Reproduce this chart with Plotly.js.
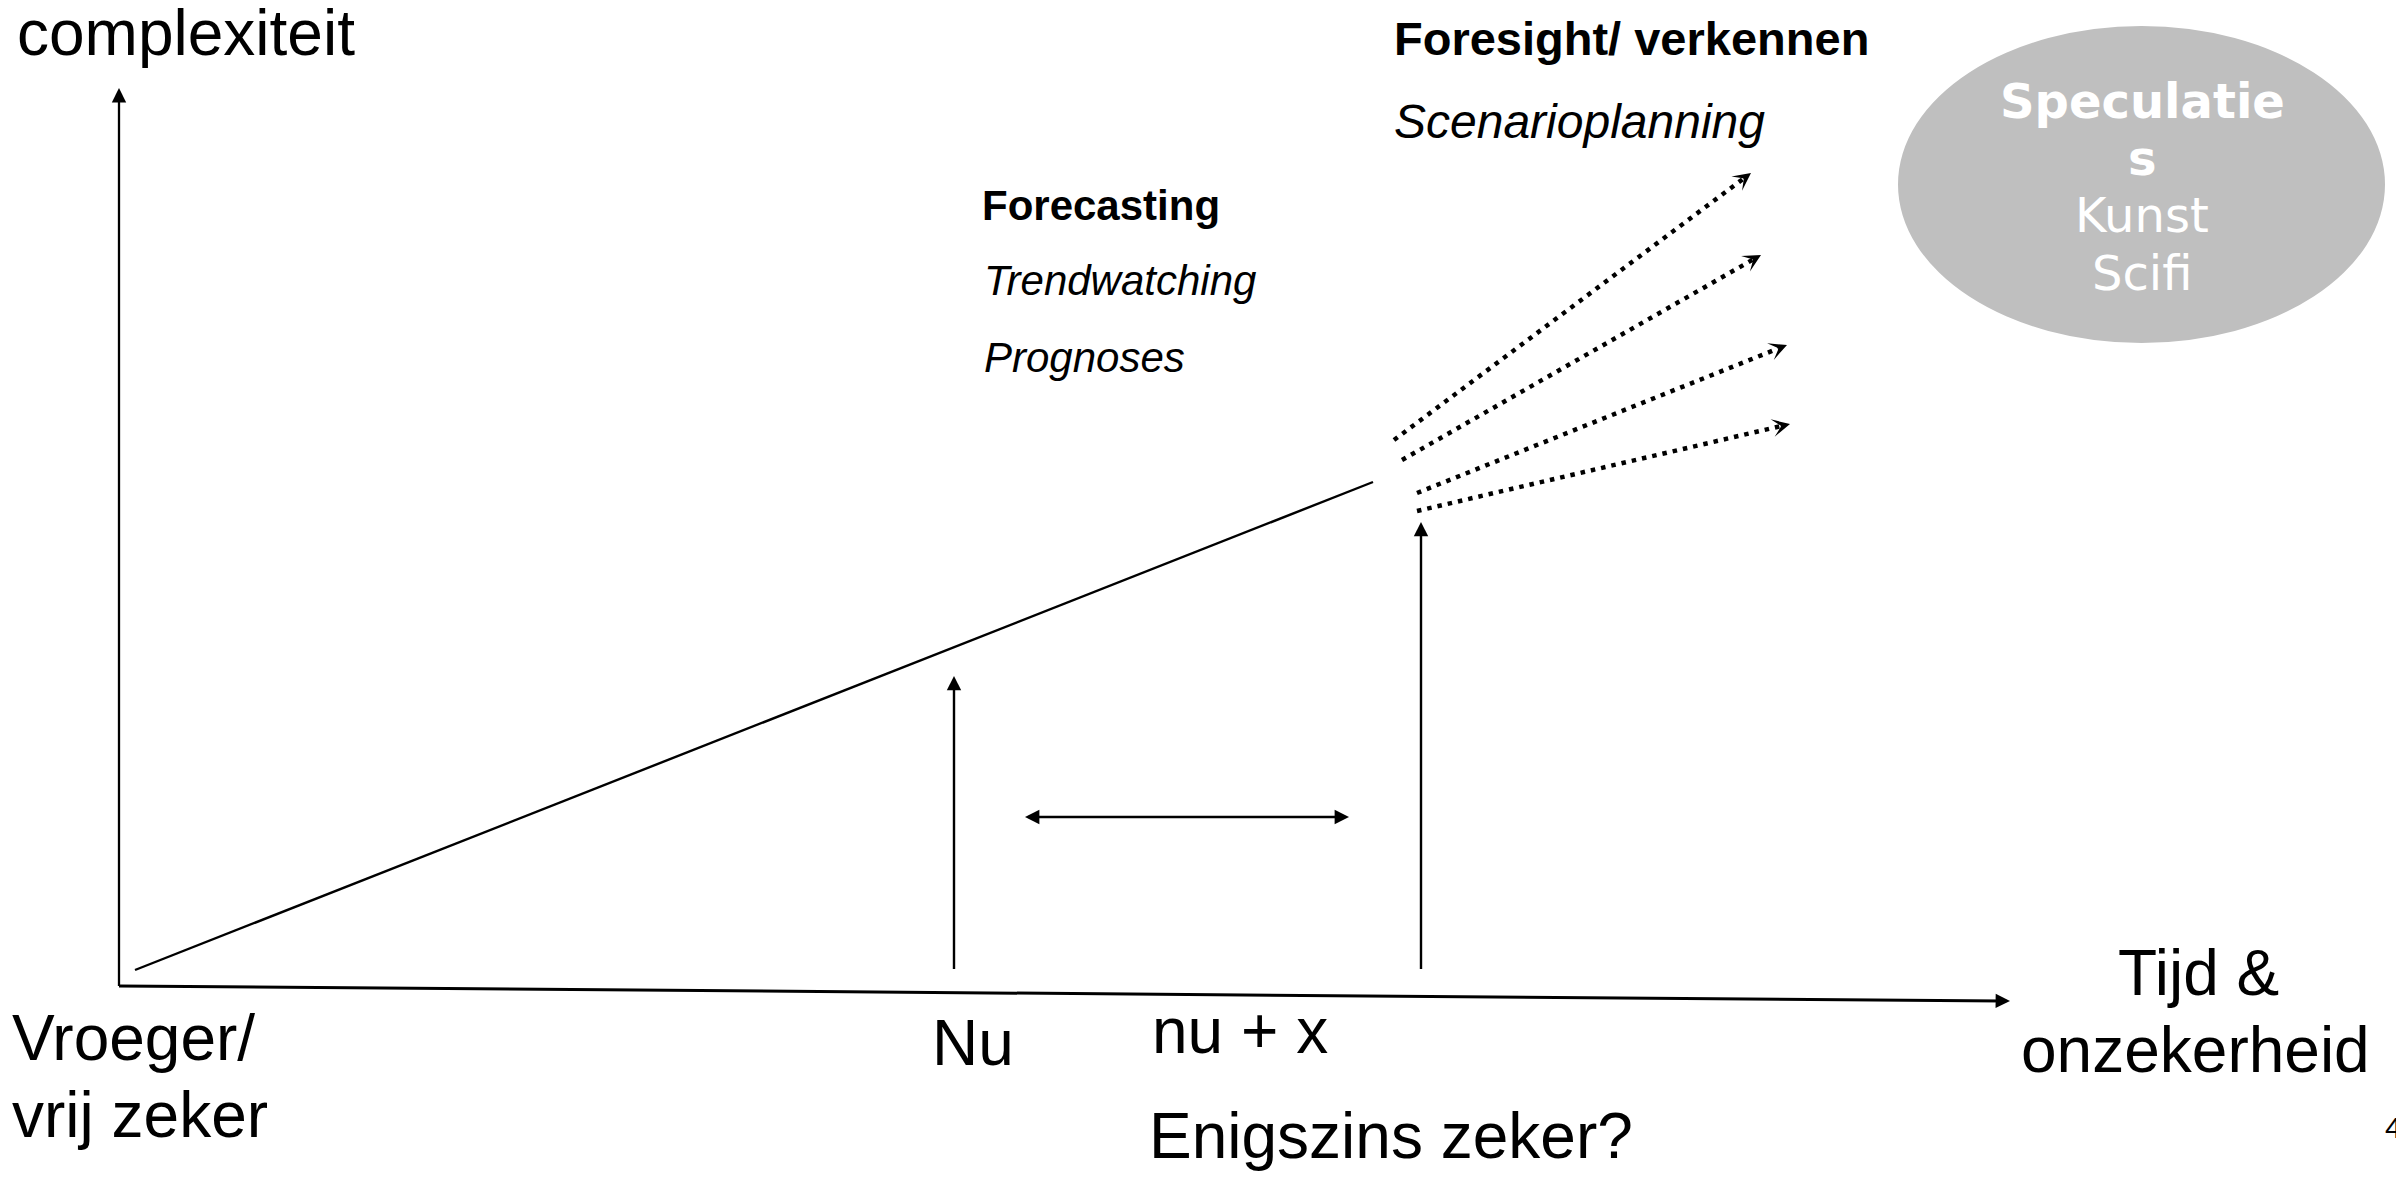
<!DOCTYPE html>
<html><head><meta charset="utf-8">
<script src="https://cdn.plot.ly/plotly-3.0.1.min.js"></script>
<style>html,body{margin:0;padding:0;background:#fff;overflow:hidden}#chart{width:2396px;height:1177px}</style>
</head><body><div id="chart"></div>
<script>
// ---- Diagram geometry (canvas units, 2396 x 1177, y downwards) ----
const yAxisX = [119, 119];      const yAxisY = [986, 88];
const xAxisX = [119, 2010];     const xAxisY = [986, 1001];
const trendX = [135, 1373];     const trendY = [970, 482];
const nuArrowX = [954, 954];    const nuArrowY = [969, 676];
const nuxArrowX = [1421, 1421]; const nuxArrowY = [969, 522];
const spanX = [1025, 1349];     const spanY = [817, 817];
// four dotted scenario arrows
const scenStartX = [1394, 1402, 1417, 1417];
const scenStartY = [440, 460, 493, 511];
const scenEndX   = [1751, 1761, 1787, 1790];
const scenEndY   = [173, 255, 345, 424];
// ellipse "Speculaties"
const ellipseX = [1898, 2385];
const ellipseY = [26, 343];

// ---- Text labels ----
const labelText = ['complexiteit', 'Foresight/ verkennen', 'Scenarioplanning', 'Forecasting', 'Trendwatching', 'Prognoses',
  'Vroeger/', 'vrij zeker', 'Nu', 'nu + x', 'Enigszins zeker?', 'Tijd &', 'onzekerheid', '4'];
const labelX = [16, 1393, 1393, 981, 983, 983, 11, 11, 931, 1151, 1148, 2198, 2195, 2384];
const labelY = [55, 55, 138, 220, 295, 372, 1060, 1137, 1065, 1053, 1158, 995, 1072, 1138];
const ellipseText = ['Speculatie', 's', 'Kunst', 'Scifi'];
const ellipseTextY = [118, 175, 232, 290];
const ellipseTextX = 2142;

// styles (not data)
const ARIAL = 'Liberation Sans, Arial, sans-serif';
const labelStyle = [
  {s:64}, {s:47,b:1}, {s:48,i:1}, {s:42,b:1}, {s:42,i:1}, {s:42,i:1},
  {s:64}, {s:64}, {s:64}, {s:64}, {s:64}, {s:64,c:1}, {s:64,c:1}, {s:30}
];
const ellipseStyle = [{b:1}, {b:1}, {}, {}];

function shorten(x0, y0, x1, y1, d) {
  const L = Math.hypot(x1 - x0, y1 - y0);
  return [x1 - (x1 - x0) / L * d, y1 - (y1 - y0) / L * d];
}
function head(x0, y0, x1, y1, opts) {
  const t = shorten(x0, y0, x1, y1, opts.back);
  return Object.assign({
    x: x1, y: y1, ax: t[0], ay: t[1], xref: 'x', yref: 'y', axref: 'x', ayref: 'y',
    text: '', showarrow: true, arrowcolor: '#000', standoff: 0
  }, opts.style);
}

const traces = [];
const annotations = [];
const solidHead = {arrowhead: 2, arrowwidth: 2.5, arrowsize: 1.15};
const dotHead = {arrowhead: 3, arrowwidth: 2.2, arrowsize: 1.35};

function solidLine(xs, ys, w, endHead, startHead) {
  let x0 = xs[0], y0 = ys[0], x1 = xs[1], y1 = ys[1];
  let e = [x1, y1], s = [x0, y0];
  if (endHead) e = shorten(x0, y0, x1, y1, 8);
  if (startHead) s = shorten(x1, y1, x0, y0, 8);
  traces.push({type: 'scatter', mode: 'lines', x: [s[0], e[0]], y: [s[1], e[1]],
    line: {color: '#000', width: w}, hoverinfo: 'skip'});
  if (endHead) annotations.push(head(x0, y0, x1, y1, {back: 10, style: solidHead}));
  if (startHead) annotations.push(head(x1, y1, x0, y0, {back: 10, style: solidHead}));
}

solidLine(yAxisX, yAxisY, 2.3, true, false);
solidLine(xAxisX, xAxisY, 3, true, false);
solidLine(trendX, trendY, 2.4, false, false);
solidLine(nuArrowX, nuArrowY, 2.4, true, false);
solidLine(nuxArrowX, nuxArrowY, 2.4, true, false);
solidLine(spanX, spanY, 2.4, true, true);

for (let i = 0; i < scenStartX.length; i++) {
  const e = shorten(scenStartX[i], scenStartY[i], scenEndX[i], scenEndY[i], 9);
  traces.push({type: 'scatter', mode: 'lines', x: [scenStartX[i], e[0]], y: [scenStartY[i], e[1]],
    line: {color: '#000', width: 4.5, dash: '4.5px,6px'}, hoverinfo: 'skip'});
  annotations.push(head(scenStartX[i], scenStartY[i], scenEndX[i], scenEndY[i], {back: 9, style: dotHead}));
}

for (let i = 0; i < labelText.length; i++) {
  const st = labelStyle[i];
  annotations.push({
    x: labelX[i], y: labelY[i] - 0.345 * st.s, xref: 'x', yref: 'y',
    text: labelText[i], showarrow: false,
    xanchor: st.c ? 'center' : 'left', yanchor: 'middle', borderpad: 0,
    font: {family: ARIAL, size: st.s, color: '#000', weight: st.b ? 'bold' : 'normal', style: st.i ? 'italic' : 'normal'}
  });
}
for (let i = 0; i < ellipseText.length; i++) {
  annotations.push({
    x: ellipseTextX, y: ellipseTextY[i] - 0.35 * 48, xref: 'x', yref: 'y',
    text: ellipseText[i], showarrow: false, xanchor: 'center', yanchor: 'middle', borderpad: 0,
    font: {family: 'DejaVu Sans, Verdana, sans-serif', size: 48, color: '#ffffff', weight: ellipseStyle[i].b ? 'bold' : 'normal'}
  });
}

const layout = {
  width: 2396, height: 1177,
  margin: {l: 0, r: 0, t: 0, b: 0, pad: 0},
  paper_bgcolor: '#ffffff', plot_bgcolor: '#ffffff',
  showlegend: false,
  xaxis: {range: [0, 2396], visible: false, fixedrange: true},
  yaxis: {range: [1177, 0], visible: false, fixedrange: true},
  shapes: [{type: 'circle', xref: 'x', yref: 'y', x0: ellipseX[0], x1: ellipseX[1], y0: ellipseY[0], y1: ellipseY[1],
    fillcolor: '#bfbfbf', line: {width: 0}, layer: 'below'}],
  annotations: annotations
};
Plotly.newPlot('chart', traces, layout, {displayModeBar: false, staticPlot: true});
</script>
</body></html>
